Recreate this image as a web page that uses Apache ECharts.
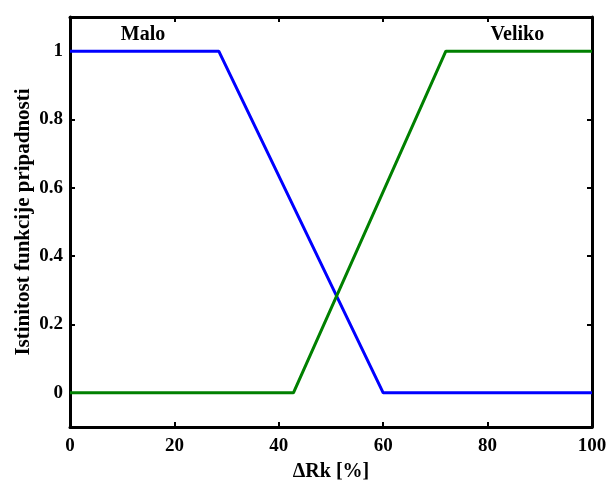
<!DOCTYPE html>
<html>
<head>
<meta charset="utf-8">
<script src="https://cdn.jsdelivr.net/npm/echarts@6/dist/echarts.min.js"></script>
<style>
  html, body { margin: 0; padding: 0; background: #fff; }
  #main { width: 611px; height: 480px; }
</style>
</head>
<body>
<div id="main"></div>
<script>
// membership functions (x in %, y membership)
var maloX = [0, 28.5, 60, 100];
var maloY = [1, 1, 0, 0];
var velikoX = [0, 42.8, 72, 100];
var velikoY = [0, 0, 1, 1];
var yTicks = [0, 0.2, 0.4, 0.6, 0.8, 1];
// label positions for the set names
var names = ['Malo', 'Veliko'];
var nameX = [14, 85.7];
var nameY = [1.047, 1.047];

function pairs(xs, ys) {
  return xs.map(function (x, i) { return [x, ys[i]]; });
}

var font = 'Liberation Serif';
var chart = echarts.init(document.getElementById('main'));

var baseX = {
  type: 'value', min: 0, max: 100, interval: 20,
  axisLine: { show: true, onZero: false, lineStyle: { color: '#000', width: 3 } },
  axisTick: { show: true, inside: true, length: 5, lineStyle: { color: '#000', width: 2 } },
  splitLine: { show: false }
};
var baseY = {
  type: 'value', min: -0.1, max: 1.1,
  axisLine: { show: true, onZero: false, lineStyle: { color: '#000', width: 3 } },
  axisTick: { show: true, inside: true, length: 5, customValues: yTicks, lineStyle: { color: '#000', width: 2 } },
  splitLine: { show: false }
};

var option = {
  animation: false,
  grid: { left: 70, right: 19, top: 17, bottom: 53, containLabel: false, outerBoundsMode: 'none' },
  xAxis: [
    Object.assign({}, baseX, {
      position: 'bottom',
      name: 'ΔRk [%]', nameLocation: 'middle', nameGap: 35, nameMoveOverlap: false,
      nameTextStyle: { fontFamily: font, fontWeight: 'bold', fontSize: 20, color: '#000' },
      axisLabel: { fontFamily: font, fontWeight: 'bold', fontSize: 19, color: '#000', margin: 10 }
    }),
    Object.assign({}, baseX, { position: 'top', axisLabel: { show: false } })
  ],
  yAxis: [
    Object.assign({}, baseY, {
      position: 'left',
      name: 'Istinitost funkcije pripadnosti', nameLocation: 'middle', nameGap: 36, nameMoveOverlap: false,
      nameTextStyle: { fontFamily: font, fontWeight: 'bold', fontSize: 21, color: '#000' },
      axisLabel: {
        fontFamily: font, fontWeight: 'bold', fontSize: 19, color: '#000', margin: 7,
        customValues: yTicks,
        formatter: function (v) { return String(Math.round(v * 10) / 10); }
      }
    }),
    Object.assign({}, baseY, { position: 'right', axisLabel: { show: false } })
  ],
  series: [
    {
      type: 'line', data: pairs(maloX, maloY), showSymbol: false,
      lineStyle: { color: '#0000ff', width: 3 }
    },
    {
      type: 'line', data: pairs(velikoX, velikoY), showSymbol: false,
      lineStyle: { color: '#008000', width: 3 }
    },
    {
      type: 'scatter', symbolSize: 0, silent: true,
      itemStyle: { opacity: 1 },
      data: names.map(function (n, i) { return { name: n, value: [nameX[i], nameY[i]] }; }),
      label: {
        show: true, position: 'inside', formatter: '{b}',
        fontFamily: font, fontWeight: 'bold', fontSize: 20, color: '#000',
        textBorderWidth: 0, opacity: 1
      }
    }
  ]
};
chart.setOption(option);
</script>
</body>
</html>
